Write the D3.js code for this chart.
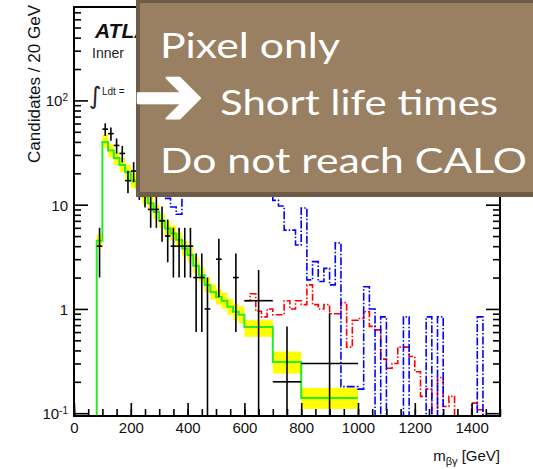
<!DOCTYPE html>
<html>
<head>
<meta charset="utf-8">
<script src="https://cdn.jsdelivr.net/npm/d3@7"></script>
<style>
  body { margin: 0; background: #fff; }
  svg { display: block; }
</style>
</head>
<body>
<svg id="chart" width="533" height="469"></svg>
<script>
// ---- Background estimate (per 20 GeV), with its uncertainty band ----
const bkgEdges = [80,100,120,140,160,180,200,220,240,260,280,300,320,340,360,380,400,420,440,460,480,500,520,540,560,580,600,700,800,1000];
const bkgValues = [4.5,40,33,28,24,20.5,17,14.5,12,10.3,8.5,7.0,5.9,5.3,4.6,3.8,3.3,2.6,2.1,1.7,1.45,1.3,1.2,1.05,0.94,0.88,0.67,0.31,0.14];
const bkgBandLow = [3.9,35,28.5,24,20.5,17.5,14.5,12.4,10.2,8.8,7.2,6.0,5.0,4.5,3.9,3.2,2.8,2.2,1.8,1.45,1.23,1.1,1.0,0.88,0.78,0.73,0.54,0.24,0.11];
const bkgBandHigh = [5.2,47,38,32.5,28,24,20,17,14.2,12.2,10,8.2,7.0,6.3,5.4,4.5,3.9,3.1,2.5,2.0,1.72,1.55,1.43,1.25,1.12,1.06,0.78,0.39,0.175];

// ---- Observed candidates (bin edges, value per 20 GeV, error) ----
const dataLow  = [80,100,120,140,160,180,200,220,240,260,280,300,320,340,360,380,400,420,440,460,500,560,600,700,800];
const dataHigh = [100,120,140,160,180,200,220,240,260,280,300,320,340,360,380,400,420,440,460,480,520,580,700,800,1000];
const dataValues = [4,53,48,37,31,17,21,15,13,9,9,7,5,4,4,4,4,2,2,1,3,2,1.2,0.2,0.3];
const dataErrors = [2,7.3,6.9,6.1,5.6,4.1,4.6,3.9,3.6,3,3,2.6,2.2,2,2,2,2,1.4,1.4,1,1.7,1.4,1.16,0.48,0.61];

// ---- Signal samples, 20 GeV bins ----
const binWidth = 20;
const redStart = 600;
const redValues = [1.2,1.4,0.95,0.84,1.0,0.88,0.88,1.2,1.0,1.2,1.1,1.7,1.1,1.0,1.1,0.9,0.9,1.15,0.43,0.78,0.81,0.94,0.68,0.63,0.33,0.27,0.3,0.43,0.43,0.35,0.25,0.145,0.17,0,0.22,0.116,0.145,0,0,0,0.125,0.108];
const blueStart = 320;
const blueValues = [11.5,9.5,8.1,14,17,20,22,25,27,30,30,32,30,28,26,24,22,19,16,11,9.7,5.7,5.7,4.1,9.3,1.9,2.84,1.83,2.45,1.7,4.3,0.18,0.18,0.18,0.17,1.63,1.0,0,0.84,0,0,0,0.84,0,0,0,0.84,0,0.84,0,0,0,0,0,0,0.84];

// ---- Axis ticks ----
const xMajorTicks = [0,200,400,600,800,1000,1200,1400];
const xMinorTicks = d3.range(0, 1501, 50);
const yMajorTicks = [0.1,1,10,100];
const yTickLabels = [["10","-1"],["1",""],["10",""],["10","2"]];

// ---- Text ----
const yTitle = "Candidates / 20 GeV";
const noteLines = ["Pixel only", "Short life times", "Do not reach CALO"];

const svg = d3.select("#chart");
const pLeft = 74, pRight = 500, pTop = 7, pBottom = 416;

const x = d3.scaleLinear().domain([0, 1500]).range([pLeft, pRight]);
const y = d3.scaleLog().domain([0.094, 787]).range([pBottom, pTop]);
const Y = v => (v > 0 ? Math.max(pTop, Math.min(pBottom, y(v))) : pBottom);

svg.append("defs").append("clipPath").attr("id", "plotClip")
  .append("rect").attr("x", pLeft).attr("y", pTop).attr("width", pRight - pLeft).attr("height", pBottom - pTop);

const plot = svg.append("g").attr("clip-path", "url(#plotClip)");

// step outline through bin edges
function stepPath(edges, values, fromBottom, toBottom) {
  let d = fromBottom ? `M${x(edges[0])},${pBottom}V${Y(values[0])}` : `M${x(edges[0])},${Y(values[0])}`;
  values.forEach((v, i) => {
    if (i > 0) d += `V${Y(v)}`;
    d += `H${x(edges[i + 1])}`;
  });
  if (toBottom) d += `V${pBottom}`;
  return d;
}

// uncertainty band
plot.selectAll("rect.band").data(bkgValues).join("rect")
  .attr("class", "band")
  .attr("x", (d, i) => x(bkgEdges[i]))
  .attr("width", (d, i) => x(bkgEdges[i + 1]) - x(bkgEdges[i]))
  .attr("y", (d, i) => Y(bkgBandHigh[i]))
  .attr("height", (d, i) => Y(bkgBandLow[i]) - Y(bkgBandHigh[i]))
  .attr("fill", "#ffff00");

// background line
plot.append("path")
  .attr("d", stepPath(bkgEdges, bkgValues, true, false))
  .attr("fill", "none").attr("stroke", "#22ee22").attr("stroke-width", 2);

// signal histograms
const redEdges = d3.range(redValues.length + 1).map(i => redStart + i * binWidth);
plot.append("path")
  .attr("d", stepPath(redEdges, redValues, false, true))
  .attr("fill", "none").attr("stroke", "#ff0000").attr("stroke-width", 1.6)
  .attr("stroke-dasharray", "7,2,1.5,2");

const blueEdges = d3.range(blueValues.length + 1).map(i => blueStart + i * binWidth);
plot.append("path")
  .attr("d", stepPath(blueEdges, blueValues, false, true))
  .attr("fill", "none").attr("stroke", "#0000ff").attr("stroke-width", 1.6)
  .attr("stroke-dasharray", "8,2,1.5,2");

// data crosses
const pts = plot.append("g").attr("stroke", "#000").attr("stroke-width", 1.6);
dataValues.forEach((v, i) => {
  const cx = x((dataLow[i] + dataHigh[i]) / 2);
  pts.append("line").attr("x1", x(dataLow[i])).attr("x2", x(dataHigh[i]))
    .attr("y1", Y(v)).attr("y2", Y(v));
  pts.append("line").attr("x1", cx).attr("x2", cx)
    .attr("y1", Y(v + dataErrors[i])).attr("y2", Y(v - dataErrors[i]));
});

// axes
const axisFont = "'Liberation Sans', Arial, sans-serif";
const yMinorTicks = [];
[0.1, 1, 10, 100].forEach(dec => { for (let k = 2; k <= 9; k++) if (dec * k < 787) yMinorTicks.push(dec * k); });

function styleAxis(g) {
  g.select(".domain").remove();
  g.selectAll(".tick line").attr("stroke", "#000").attr("stroke-width", 1.6);
  g.selectAll("text").attr("font-family", axisFont).attr("font-size", 15).attr("fill", "#111");
}

const leftAxis = svg.append("g").attr("transform", `translate(${pLeft},0)`)
  .call(d3.axisLeft(y).tickValues(yMajorTicks).tickSize(-14).tickPadding(6).tickFormat(() => ""))
  .call(styleAxis);
leftAxis.selectAll(".tick text").each(function(d, i) {
  const t = d3.select(this).attr("dy", "0.36em");
  t.append("tspan").text(yTickLabels[i][0]);
  if (yTickLabels[i][1]) t.append("tspan").attr("font-size", 10).attr("dy", "-0.55em").text(yTickLabels[i][1]);
});
svg.append("g").attr("transform", `translate(${pLeft},0)`)
  .call(d3.axisLeft(y).tickValues(yMinorTicks).tickSize(-7).tickFormat(""))
  .call(styleAxis);
svg.append("g").attr("transform", `translate(${pRight},0)`)
  .call(d3.axisRight(y).tickValues(yMajorTicks).tickSize(-14).tickFormat(""))
  .call(styleAxis);
svg.append("g").attr("transform", `translate(${pRight},0)`)
  .call(d3.axisRight(y).tickValues(yMinorTicks).tickSize(-7).tickFormat(""))
  .call(styleAxis);

svg.append("g").attr("transform", `translate(0,${pBottom})`)
  .call(d3.axisBottom(x).tickValues(xMinorTicks).tickSize(-7).tickFormat(""))
  .call(styleAxis);
svg.append("g").attr("transform", `translate(0,${pBottom})`)
  .call(d3.axisBottom(x).tickValues(xMajorTicks).tickSize(-13).tickPadding(6).tickFormat(d3.format("d")))
  .call(styleAxis);

// frame
svg.append("rect").attr("x", pLeft).attr("y", pTop).attr("width", pRight - pLeft).attr("height", pBottom - pTop)
  .attr("fill", "none").attr("stroke", "#000").attr("stroke-width", 2);

// axis titles
svg.append("text")
  .attr("transform", "rotate(-90)")
  .attr("x", -163).attr("y", 40)
  .attr("font-family", axisFont).attr("font-size", 16).attr("fill", "#111")
  .attr("textLength", 158).attr("lengthAdjust", "spacingAndGlyphs")
  .text(yTitle);

const xt = svg.append("text").attr("x", pRight).attr("y", 461).attr("text-anchor", "end")
  .attr("font-family", axisFont).attr("font-size", 15).attr("fill", "#111");
xt.append("tspan").text("m");
xt.append("tspan").attr("font-size", 11).attr("dy", 4).text("βγ");
xt.append("tspan").attr("dy", -4).text(" [GeV]");

// experiment label (partly covered by the note box)
svg.append("text").attr("x", 95).attr("y", 38)
  .attr("font-family", axisFont).attr("font-size", 21).attr("font-weight", "bold").attr("font-style", "italic")
  .attr("fill", "#111").text("ATLAS");
svg.append("text").attr("x", 92).attr("y", 58)
  .attr("font-family", axisFont).attr("font-size", 14).attr("fill", "#222").text("Inner");
svg.append("text").attr("x", 89).attr("y", 104)
  .attr("font-family", "'DejaVu Sans', sans-serif").attr("font-size", 24).attr("fill", "#222").text("∫");
svg.append("text").attr("x", 102).attr("y", 95)
  .attr("font-family", axisFont).attr("font-size", 10).attr("fill", "#222").text("Ldt =");

// annotation box
svg.append("rect").attr("x", 136).attr("y", 0).attr("width", 400).attr("height", 197).attr("fill", "#6f5c48");
svg.append("rect").attr("x", 140).attr("y", 3).attr("width", 400).attr("height", 189).attr("fill", "#9a8062");

const noteFont = "Lato, 'Open Sans', sans-serif";
svg.append("text").attr("x", 160).attr("y", 58)
  .attr("font-family", noteFont).attr("font-size", 35).attr("fill", "#fff")
  .attr("textLength", 180).attr("lengthAdjust", "spacingAndGlyphs").text(noteLines[0]);
svg.append("g").attr("transform", "translate(133,125) scale(1.7)")
  .append("text").attr("x", 0).attr("y", 0)
  .attr("font-family", "'DejaVu Sans', sans-serif").attr("font-size", 50).attr("font-weight", "bold")
  .attr("fill", "#fff").attr("stroke", "#fff").attr("stroke-width", 1.2).attr("stroke-linejoin", "round")
  .text("➔");
svg.append("text").attr("x", 220).attr("y", 115)
  .attr("font-family", noteFont).attr("font-size", 35).attr("fill", "#fff")
  .attr("textLength", 278).attr("lengthAdjust", "spacingAndGlyphs").text(noteLines[1]);
svg.append("text").attr("x", 160).attr("y", 173)
  .attr("font-family", noteFont).attr("font-size", 35).attr("fill", "#fff")
  .attr("textLength", 367).attr("lengthAdjust", "spacingAndGlyphs").text(noteLines[2]);
</script>
</body>
</html>
